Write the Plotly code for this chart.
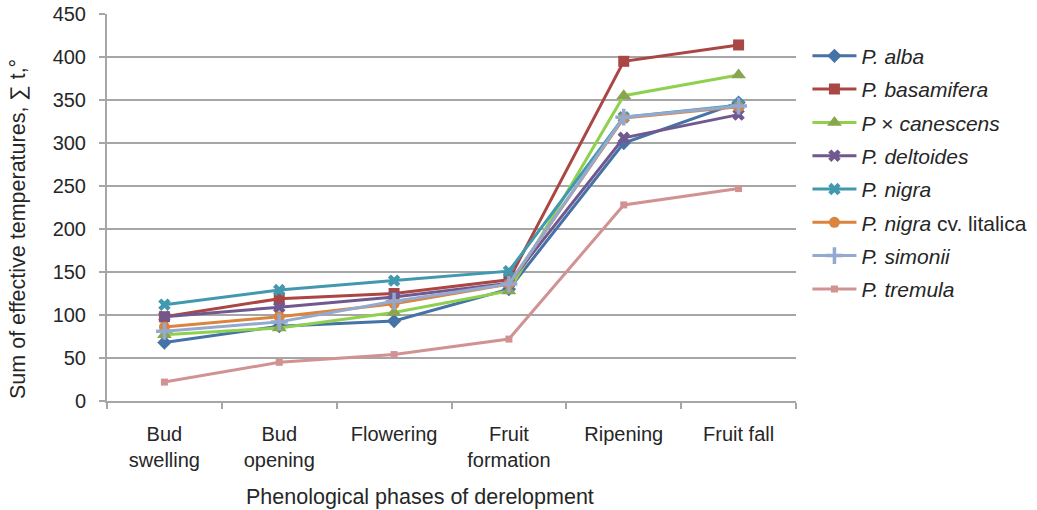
import plotly.graph_objects as go

categories = ["Bud<br>swelling", "Bud<br>opening", "Flowering", "Fruit<br>formation", "Ripening", "Fruit fall"]
series_names = ["<i>P. alba</i>", "<i>P. basamifera</i>", "<i>P</i> × <i>canescens</i>", "<i>P. deltoides</i>",
                "<i>P. nigra</i>", "<i>P. nigra</i> cv. litalica", "<i>P. simonii</i>", "<i>P. tremula</i>"]
alba = [68, 87, 93, 130, 300, 347]
basamifera = [98, 119, 125, 141, 395, 414]
canescens = [77, 85, 103, 128, 355, 379]
deltoides = [98, 109, 121, 137, 306, 333]
nigra = [112, 129, 140, 151, 330, 344]
nigra_italica = [86, 98, 113, 136, 329, 342]
simonii = [81, 92, 116, 136, 330, 343]
tremula = [22, 45, 54, 72, 228, 247]
y_ticks = [0, 50, 100, 150, 200, 250, 300, 350, 400, 450]
x_title = "Phenological phases of derelopment"
y_title = "Sum of effective temperatures, ∑ t,°"

values = [alba, basamifera, canescens, deltoides, nigra, nigra_italica, simonii, tremula]
line_colors = ["#4572A7", "#AA4643", "#8FD14F", "#71588F", "#4198AF", "#DB843D", "#93A9CF", "#D19392"]
marker_colors = ["#4572A7", "#AA4643", "#89A54E", "#71588F", "#4198AF", "#DB843D", "#93A9CF", "#D19392"]
symbols = ["diamond", "square", "triangle-up", "x", "x", "circle", "cross-thin", "square"]
sizes = [11, 11, 13, 11, 11, 11, 12, 7]

fig = go.Figure()
for i, (name, vals) in enumerate(zip(series_names, values)):
    mk = dict(symbol=symbols[i], size=sizes[i], color=marker_colors[i])
    if symbols[i] == "cross-thin":
        mk["line"] = dict(color=marker_colors[i], width=3.5)
    fig.add_trace(go.Scatter(
        x=categories, y=vals, name=name, mode="lines+markers",
        line=dict(color=line_colors[i], width=3),
        marker=mk, legendgroup="g%d" % i,
    ))

W, H = 1037, 510
PL, PR, PT, PB = 107, 796, 14, 401
font_family = "Liberation Sans, Arial, sans-serif"
text_color = "#262626"


def px_to_paper_x(px):
    return (px - PL) / (PR - PL)


def px_to_paper_y(py):
    return (PB - py) / (PB - PT)


fig.update_layout(
    width=W, height=H,
    margin=dict(l=PL, r=W - PR, t=PT, b=H - PB, autoexpand=False),
    paper_bgcolor="white", plot_bgcolor="white",
    font=dict(family=font_family, size=20, color=text_color),
    showlegend=True,
    legend=dict(x=1.0166, y=0.944, xanchor="left", yanchor="top",
                font=dict(size=21, color=text_color), tracegroupgap=3,
                itemwidth=44, bgcolor="rgba(0,0,0,0)"),
    xaxis=dict(
        type="category", showgrid=False, showline=True, linecolor="#A6A6A6", linewidth=2,
        ticks="outside", tickson="boundaries", ticklen=6, tickcolor="#A6A6A6", tickwidth=2,
        ticklabelstandoff=14, automargin=False,
        range=[-0.5, 5.5], tickfont=dict(size=20),
    ),
    yaxis=dict(
        range=[0, 450], tickvals=y_ticks, showgrid=True, gridcolor="#A6A6A6", gridwidth=2,
        showline=True, linecolor="#A6A6A6", linewidth=2,
        ticks="outside", ticklen=6, tickcolor="#A6A6A6", tickwidth=2,
        ticklabelstandoff=9, automargin=False, zeroline=False, tickfont=dict(size=20),
    ),
    annotations=[
        dict(text=x_title, xref="paper", yref="paper", x=px_to_paper_x(419.5), y=px_to_paper_y(497),
             xanchor="center", yanchor="middle", showarrow=False, font=dict(size=21.5, color=text_color)),
        dict(text=y_title, xref="paper", yref="paper", x=px_to_paper_x(18), y=px_to_paper_y(229),
             xanchor="center", yanchor="middle", textangle=-90, showarrow=False,
             font=dict(size=21.5, color=text_color)),
    ],
)
fig.write_html("out.html", config={"displayModeBar": False},
               post_script="document.body.style.margin='0';")
